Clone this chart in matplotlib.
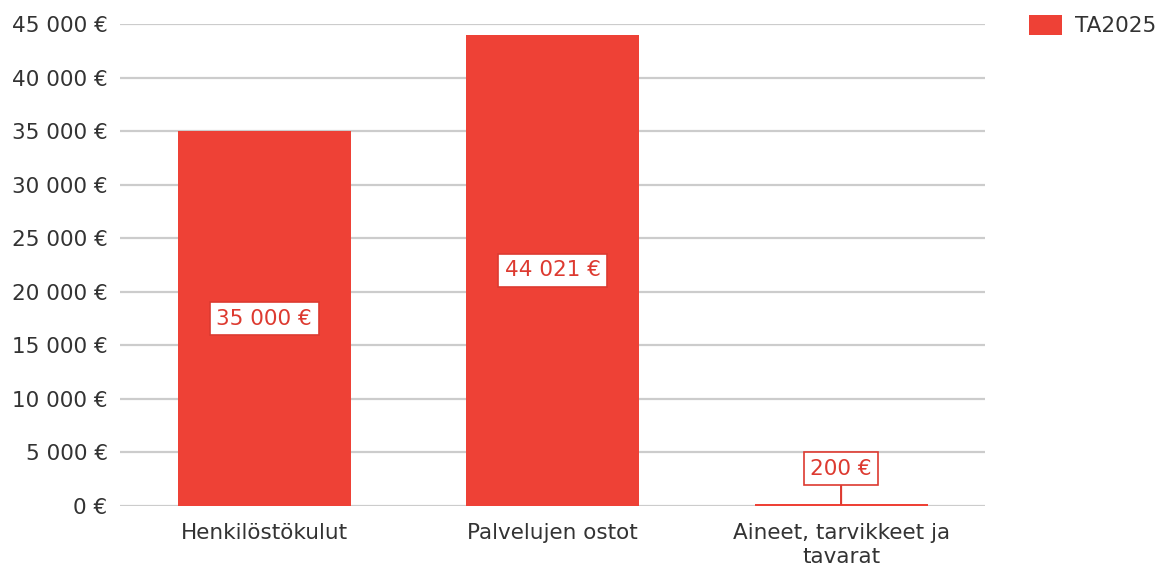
import matplotlib
matplotlib.use("Agg")
import matplotlib.pyplot as plt
from matplotlib.ticker import FuncFormatter

# Data
categories = ["Henkilöstökulut", "Palvelujen ostot", "Aineet, tarvikkeet ja\ntavarat"]
values = [35000, 44021, 200]
series_name = "TA2025"

bar_color = "#EE4136"
label_color = "#DD3A30"
text_color = "#333333"
grid_color = "#CCCCCC"
fs = 15.5

plt.rcParams['font.family'] = ['DejaVu Sans']

fig = plt.figure(figsize=(11.66, 5.74), dpi=100)
ax = fig.add_axes([0.103, 0.1185, 0.742, 0.8395])

x_positions = range(len(categories))
bars = ax.bar(x_positions, values, width=0.6, color=bar_color, zorder=3, label=series_name)

def euro(v, pos=None):
    return "{:,.0f} €".format(v).replace(",", " ")

ax.set_ylim(0, 45000)
ax.set_xlim(-0.5, 2.5)
ax.set_yticks(range(0, 45001, 5000))
ax.yaxis.set_major_formatter(FuncFormatter(euro))
ax.set_xticks(list(x_positions))
ax.set_xticklabels(categories, linespacing=1.3)
ax.tick_params(axis='both', length=0, labelsize=fs, colors=text_color)
ax.tick_params(axis='y', pad=9)
ax.tick_params(axis='x', pad=12)
ax.grid(axis='y', color=grid_color, linewidth=1.6, zorder=0)
for s in ax.spines.values():
    s.set_visible(False)

# Value labels
box = dict(boxstyle="square,pad=0.3", fc="white", ec=label_color, lw=1.2)
for x, v in zip(x_positions, values):
    if v > 5000:
        ax.text(x, v / 2, euro(v), ha='center', va='center', fontsize=fs,
                color=label_color, bbox=box, zorder=5)
    else:
        ax.annotate(euro(v), xy=(x, v), xytext=(x, 3500), ha='center', va='center',
                    fontsize=fs, color=label_color, bbox=box, zorder=5,
                    arrowprops=dict(arrowstyle='-', color=label_color, lw=1.5,
                                    shrinkA=0, shrinkB=0))

leg = fig.legend(loc='upper left', bbox_to_anchor=(0.866, 1.008), frameon=False,
                 fontsize=fs, handlelength=1.55, handleheight=1.1, handletextpad=0.6)
for t in leg.get_texts():
    t.set_color(text_color)

plt.savefig("out.png", dpi=100)
